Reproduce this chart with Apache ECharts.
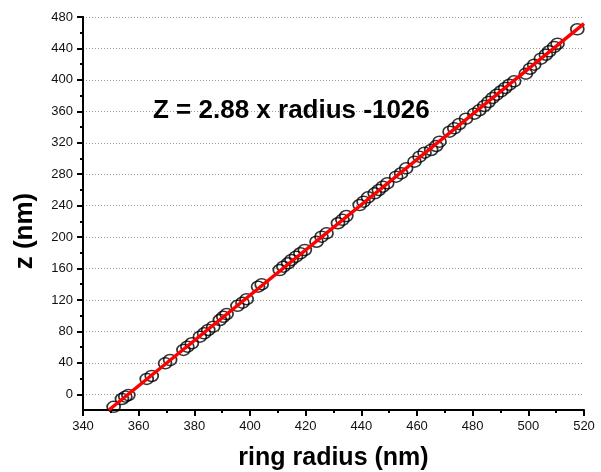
<!DOCTYPE html>
<html>
<head>
<meta charset="utf-8">
<script src="https://cdn.jsdelivr.net/npm/echarts@6/dist/echarts.min.js"></script>
<style>html,body{margin:0;padding:0;background:#fff}#c{width:601px;height:472px}</style>
</head>
<body>
<div id="c"></div>
<script>
// ring radius (nm)
const radius = [351.0,354.0,355.2,356.3,362.9,364.7,369.5,371.3,376.1,377.5,379.1,382.0,383.5,385.0,386.8,389.2,390.4,391.6,395.5,397.3,398.8,402.9,404.2,410.7,412.0,413.7,414.9,416.5,418.1,419.7,423.9,425.7,427.5,431.6,433.2,434.6,439.4,440.8,442.4,444.8,446.3,447.7,449.3,452.5,454.3,456.1,459.1,460.9,462.7,465.1,466.9,468.1,471.7,473.4,475.2,477.6,480.6,482.4,484.2,485.7,487.2,488.6,490.2,491.7,493.2,494.9,499.1,500.6,502.1,504.5,506.3,507.5,509.3,510.5,517.6];
// z (nm)
const zValues = [-16,-6,-3,-1,19.5,23.3,39.4,43.6,56.4,60.6,64.9,73.3,77.6,81.8,86.0,94.5,98.5,102.0,112.5,116.5,121.0,136.9,139.9,158.1,162.3,166.7,170.9,175.1,179.4,183.6,194.1,200.5,204.8,217.6,222.0,226.8,240.8,245.0,250.6,255.7,259.9,264.1,268.4,276.8,281.2,287.5,295.9,302.3,307.4,310.8,315.9,321.4,334.1,338.4,343.9,350.6,357.0,361.4,366.8,371.9,377.0,381.2,385.5,389.7,393.9,398.2,407.9,414.2,419.3,427.0,432.0,436.4,441.9,446.0,464.4];
// linear fit endpoints
const fitX = [349.3, 520];
const fitY = [-20, 471.6];
const yMajorTicks = [0,40,80,120,160,200,240,280,320,360,400,440,480];
const yMinorTicks = [20,60,100,140,180,220,260,300,340,380,420,460];
const equationText = 'Z = 2.88 x radius -1026';
const xName = 'ring radius (nm)';
const yName = 'z (nm)';

const FONT = '"Liberation Sans", Arial, Helvetica, sans-serif';
const chart = echarts.init(document.getElementById('c'), null, {renderer: 'canvas'});
const scatterData = radius.map((r, i) => [r, zValues[i]]);
const fitData = fitX.map((x, i) => [x, fitY[i]]);

const yCommon = {
  type: 'value', min: -20, max: 480, interval: 20, position: 'left',
  axisLine: {show: true, onZero: false, lineStyle: {color: '#000', width: 2}}
};

chart.setOption({
  animation: false,
  backgroundColor: '#fff',
  grid: {left: 83, right: 17, top: 17, bottom: 62, containLabel: false, outerBoundsMode: 'none'},
  xAxis: {
    type: 'value', min: 340, max: 520, interval: 20,
    name: xName, nameLocation: 'middle', nameGap: 36,
    nameTextStyle: {fontFamily: FONT, fontWeight: 'bold', fontSize: 25, color: '#000'},
    axisLine: {show: true, onZero: false, lineStyle: {color: '#000', width: 2}},
    axisTick: {show: true, length: 6, lineStyle: {color: '#000', width: 2}},
    minorTick: {show: true, splitNumber: 2, length: 3, lineStyle: {color: '#000', width: 2}},
    axisLabel: {fontFamily: FONT, fontSize: 13, color: '#111', margin: 10},
    splitLine: {show: false}
  },
  yAxis: [
    Object.assign({}, yCommon, {
      axisTick: {show: true, length: 6, customValues: yMajorTicks, lineStyle: {color: '#000', width: 2}},
      axisLabel: {fontFamily: FONT, fontSize: 13, color: '#111', margin: 10, customValues: yMajorTicks},
      splitLine: {show: true, lineStyle: {color: '#999', width: 1, type: [1, 2]}}
    }),
    Object.assign({}, yCommon, {
      axisTick: {show: true, length: 3, customValues: yMinorTicks, lineStyle: {color: '#000', width: 2}},
      axisLabel: {show: false},
      splitLine: {show: false}
    })
  ],
  graphic: [
    {type: 'text', left: 153, top: 98, z: 100,
     style: {text: equationText, font: 'bold 26px ' + FONT, fill: '#000'}},
    {type: 'text', x: 25, y: 231, rotation: Math.PI / 2, z: 100,
     style: {text: yName, font: 'bold 26px ' + FONT, fill: '#000', align: 'center', verticalAlign: 'middle'}}
  ],
  series: [
    {type: 'scatter', yAxisIndex: 0, data: scatterData, symbol: 'circle', symbolSize: [13, 11],
     itemStyle: {color: 'rgba(0,0,0,0)', borderColor: '#000', borderWidth: 1.6}, z: 2},
    {type: 'line', yAxisIndex: 0, data: fitData, showSymbol: false, symbol: 'none',
     lineStyle: {color: '#ff0000', width: 3.5}, z: 3}
  ]
});
</script>
</body>
</html>
